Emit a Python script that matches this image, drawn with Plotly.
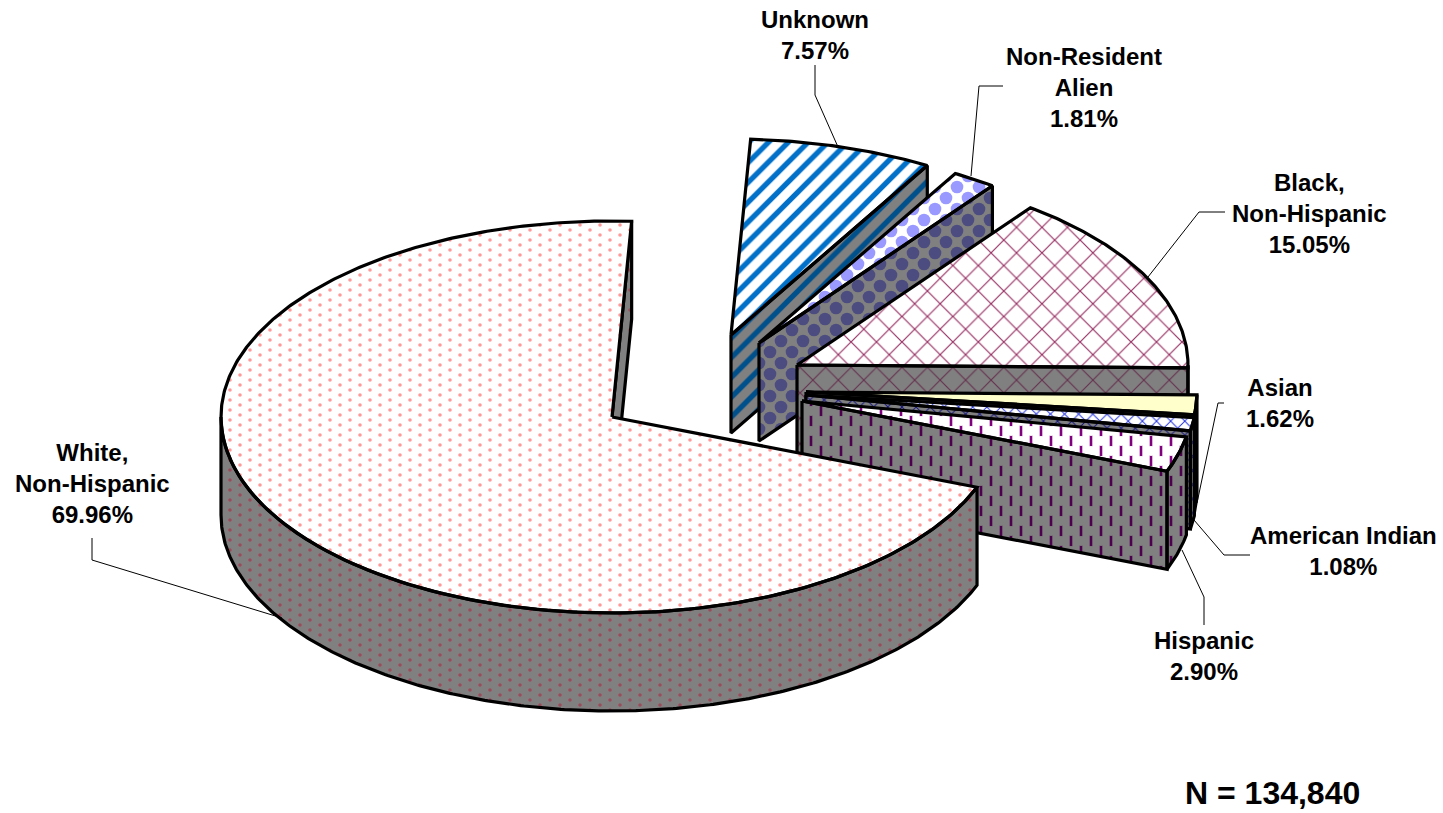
import math
import plotly.graph_objects as go

# ---- data (clockwise order, starting at the White slice) ----
categories = ["White,<br>Non-Hispanic", "Unknown", "Non-Resident<br>Alien",
              "Black,<br>Non-Hispanic", "Asian", "American Indian", "Hispanic"]
values = [69.96, 7.57, 1.81, 15.05, 1.62, 1.08, 2.90]
total_text = "N = 134,840"

# ---- geometry of the projected pie (page pixels) ----
W, H = 1443, 813
RX, RY, DEPTH = 391, 196, 98
START_DEG = 111.0
slice_centers = [(612, 417), (731, 335), (759, 343), (797, 365),
                 (806, 392), (806, 395), (802, 401)]
paint_order = [1, 2, 3, 4, 5, 6, 0]

# Stacked axes with the same pixel scale: a shifted origin staggers the fill patterns
layer_shifts = [(0, 0), (11, 11), (21, 21), (20, 20), (20, 30), (30, 25), (30, 35)]
slice_layers = {1: [0], 2: [0, 1], 3: [1], 4: [1], 5: [1], 6: [1, 2], 0: [3, 4, 5, 6]}

GRAY = "#808080"
styles = [
    dict(top=dict(shape=".", fg="#FF9999", bg="#FFFFFF", size=20, sol=0.025),
         wall=dict(shape=".", fg="#994D5C", bg=GRAY, size=20, sol=0.025)),
    dict(top=dict(shape="/", fg="#0070C8", bg="#FFFFFF", size=14, sol=0.38),
         wall=dict(shape="/", fg="#00508C", bg=GRAY, size=14, sol=0.38)),
    dict(top=dict(shape=".", fg="#9999FF", bg="#FFFFFF", size=22, sol=0.26),
         wall=dict(shape=".", fg="#4C4C80", bg=GRAY, size=22, sol=0.26)),
    dict(top=dict(shape="x", fg="#993366", bg="#FFFFFF", size=18, sol=0.13),
         wall=dict(shape="x", fg="#663350", bg=GRAY, size=18, sol=0.13)),
    dict(top=dict(shape="", fg="#FFFFCC", bg="#FFFFCC", size=10, sol=0.1),
         wall=dict(shape="", fg=GRAY, bg=GRAY, size=10, sol=0.1)),
    dict(top=dict(shape="x", fg="#2030E0", bg="#FFFFFF", size=10, sol=0.18),
         wall=dict(shape="x", fg="#101080", bg=GRAY, size=10, sol=0.18)),
    dict(top=dict(shape="|", fg="#800080", bg="#FFFFFF", size=20, sol=0.13, mask="#FFFFFF"),
         wall=dict(shape="|", fg="#4D004D", bg=GRAY, size=20, sol=0.13, mask=GRAY)),
]

label_pos = [(92, 483), (815, 35), (1084, 87), (1309, 213), (1280, 403), (1343, 551), (1204, 656)]
leaders = [
    [(92, 538), (92, 560), (282, 618)],
    [(815, 65), (815, 95), (838, 147)],
    [(1003, 86), (979, 86), (971, 176)],
    [(1225, 212), (1199, 212), (1148, 277)],
    [(1224, 403), (1218, 403), (1197, 503)],
    [(1250, 555), (1224, 555), (1194, 520)],
    [(1204, 625), (1204, 597), (1182, 550)],
]
CLEAR = "rgba(0,0,0,0)"

# ---- helpers ----
def rim(c, deg, drop=0):
    a = math.radians(deg)
    return (c[0] + RX * math.sin(a), c[1] - RY * math.cos(a) + drop)

def arc(c, a0, a1, drop=0):
    n = max(2, int(abs(a1 - a0) * 2) + 1)
    return [rim(c, a0 + (a1 - a0) * i / (n - 1), drop) for i in range(n)]

def ax_ids(layer):
    return ("x", "y") if layer == 0 else (f"x{layer + 1}", f"y{layer + 1}")

def closed(pts):
    return [p[0] for p in pts] + [pts[0][0]], [p[1] for p in pts] + [pts[0][1]]

def add_fill(fig, pts, st, layer, base):
    xs, ys = closed(pts)
    xa, ya = ax_ids(layer)
    common = dict(x=xs, y=ys, xaxis=xa, yaxis=ya, mode="lines", fill="toself",
                  line=dict(width=0), hoverinfo="skip", showlegend=False)
    bg = st["bg"] if base else CLEAR
    fig.add_trace(go.Scatter(
        fillcolor=bg,
        fillpattern=dict(shape=st["shape"], fgcolor=st["fg"], bgcolor=bg,
                         size=st["size"], solidity=st["sol"], fillmode="replace"),
        **common))
    if "mask" in st:  # round holes turn the vertical lines into dashes
        fig.add_trace(go.Scatter(
            fillcolor=CLEAR,
            fillpattern=dict(shape=".", fgcolor=st["mask"], bgcolor=CLEAR,
                             size=st["size"], solidity=0.2, fillmode="replace"),
            **common))

def add_outline(fig, pts, layer):
    xs, ys = closed(pts)
    xa, ya = ax_ids(layer)
    fig.add_trace(go.Scatter(x=xs, y=ys, xaxis=xa, yaxis=ya, mode="lines",
                             line=dict(color="black", width=3.2), hoverinfo="skip", showlegend=False))

# ---- slice angles from the values ----
total = sum(values)
angles = []
cur = START_DEG
for v in values:
    span = v / total * 360
    start = cur - 360 if cur >= 360 else cur
    angles.append((start, start + span))
    cur += span

fig = go.Figure()
for i in paint_order:
    a0, a1 = angles[i]
    c = slice_centers[i]
    st = styles[i]
    layers = slice_layers[i]
    parts = []
    # radial walls facing the viewer
    for edge, sign in ((a0, -1), (a1, 1)):
        if sign * math.sin(math.radians(edge)) > 0:
            p = rim(c, edge)
            poly = [c, p, (p[0], p[1] + DEPTH), (c[0], c[1] + DEPTH)]
            if a1 - a0 > 180:   # the slice's own top face covers part of this wall
                add_fill(fig, poly, st["wall"], layers[0], True)
                add_outline(fig, poly, layers[0])
            else:
                parts.append((poly, st["wall"]))
    # outer wall, front half only
    lo, hi = max(a0, 90), min(a1, 270)
    if hi > lo:
        parts.append((arc(c, lo, hi) + arc(c, hi, lo, DEPTH), st["wall"]))
    # top face
    parts.append(([c] + arc(c, a0, a1), st["top"]))
    for n, layer in enumerate(layers):
        for poly, style in parts:
            add_fill(fig, poly, style, layer, n == 0)
    for poly, _ in parts:
        add_outline(fig, poly, layers[-1])

# ---- leader lines ----
shapes = []
for path in leaders:
    for (x0, y0), (x1, y1) in zip(path, path[1:]):
        shapes.append(dict(type="line", x0=x0, y0=y0, x1=x1, y1=y1, xref="x", yref="y",
                           line=dict(color="black", width=1), layer="above"))

# ---- labels ----
font = dict(family="Liberation Sans, Arial, sans-serif", size=24, color="black")
annotations = []
for name, v, (x, y) in zip(categories, values, label_pos):
    annotations.append(dict(x=x, y=y, xref="x", yref="y", text=f"<b>{name}<br>{v:.2f}%</b>",
                            showarrow=False, align="center", font=font,
                            xanchor="center", yanchor="middle"))
annotations.append(dict(x=1272, y=793, xref="x", yref="y", text=f"<b>{total_text}</b>",
                        showarrow=False, xanchor="center", yanchor="middle",
                        font=dict(family="Liberation Sans, Arial, sans-serif", size=32, color="black")))

axes = {}
for n, (dx, dy) in enumerate(layer_shifts):
    suffix = "" if n == 0 else str(n + 1)
    xa, ya = ax_ids(n)
    axes["xaxis" + suffix] = dict(domain=[dx / W, 1], range=[dx, W], visible=False,
                                  fixedrange=True, anchor=ya)
    axes["yaxis" + suffix] = dict(domain=[0, 1 - dy / H], range=[H, dy], visible=False,
                                  fixedrange=True, anchor=xa)

fig.update_layout(
    width=W, height=H, margin=dict(l=0, r=0, t=0, b=0),
    paper_bgcolor="white", plot_bgcolor=CLEAR, showlegend=False,
    shapes=shapes, annotations=annotations, **axes,
)
fig.write_html("out.html", post_script="document.body.style.margin='0';",
               config={"displayModeBar": False})
